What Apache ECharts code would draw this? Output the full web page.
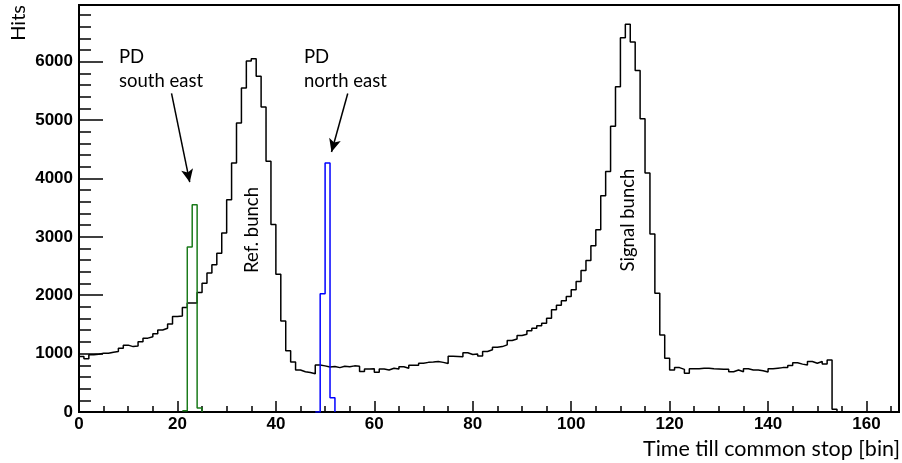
<!DOCTYPE html>
<html><head><meta charset="utf-8">
<script src="https://cdn.jsdelivr.net/npm/echarts@6/dist/echarts.min.js"></script>
<style>html,body{margin:0;padding:0;background:#fff}#c{width:902px;height:463px}</style>
</head><body><div id="c"></div>
<script>
// Black histogram: hits per bin, bins 0..153 (bin width 1)
const mainHits = [
 950, 910, 980, 990,1005,1005,1025,1035,1090,1145,
1120,1130,1205,1265,1290,1340,1405,1435,1505,1635,
1645,1790,1865,1865,2045,2205,2380,2520,2720,3065,
3635,4265,4950,5550,6010,6050,5750,5225,4295,3210,
2360,1560,1050, 855, 720, 690, 675, 655, 805, 790,
 770, 780, 760, 785, 775, 790, 785, 695, 735, 740,
 680, 735, 720, 750, 735, 775, 750, 800, 800, 835,
 850, 855, 865, 850, 830, 955, 950, 945,1015, 985,
 995, 960,1035,1065,1110,1120,1150,1225,1250,1310,
1330,1390,1435,1475,1520,1605,1750,1830,1905,1980,
2095,2235,2425,2595,2845,3120,3705,4120,4895,5570,
6410,6640,6335,5850,5020,4095,3050,2035,1320, 920,
 720, 760, 730, 665, 740, 740, 750, 750, 740, 735,
 730, 730, 690, 720, 690, 740, 720, 720, 705, 685,
 740, 750, 760, 760, 795, 845, 820, 805, 865, 835,
 865, 820, 890,  45
];
// PD south east (green), bins 21..24
const seStart = 21;
const seHits = [20, 2825, 3550, 70];
// PD north east (blue), bins 48..51
const neStart = 48;
const neHits = [0, 2025, 4265, 245];

const xTicks = [0,20,40,60,80,100,120,140,160];
const yTicks = [0,1000,2000,3000,4000,5000,6000];
const xMax = 166.6, yMax = 6970;

function stepData(start, vals){
  const d = [];
  vals.forEach((v,i)=>d.push([start+i, v]));
  d.push([start+vals.length, 0]);
  return d;
}
const font = 'Lato, "Open Sans", sans-serif';
const ann = '18.5px ' + font;
const chart = echarts.init(document.getElementById('c'));
chart.setOption({
  animation:false,
  grid:{left:79,right:3,top:5,bottom:51,show:true,borderColor:'#000',borderWidth:2,backgroundColor:'transparent'},
  xAxis:{type:'value',min:0,max:xMax,interval:20,
    axisLine:{lineStyle:{color:'#000',width:2}},
    axisTick:{inside:true,length:11,lineStyle:{color:'#000',width:1.5}},
    minorTick:{show:true,splitNumber:4,length:6,lineStyle:{color:'#000',width:1.5}},
    splitLine:{show:false},
    axisLabel:{margin:4,fontFamily:'"Liberation Sans", Arial, sans-serif',fontWeight:'bold',fontSize:17,color:'#000',
      formatter:v=>xTicks.includes(v)?String(v):''}
  },
  yAxis:{type:'value',min:0,max:yMax,interval:1000,
    axisLine:{lineStyle:{color:'#000',width:2}},
    axisTick:{inside:true,length:24,lineStyle:{color:'#000',width:1.5}},
    minorTick:{show:true,splitNumber:5,length:12,lineStyle:{color:'#000',width:1.5}},
    splitLine:{show:false},
    axisLabel:{margin:6,fontFamily:'"Liberation Sans", Arial, sans-serif',fontWeight:'bold',fontSize:17,color:'#000',
      formatter:v=>yTicks.includes(v)?String(v):''}
  },
  series:[
    {type:'line',step:'end',data:stepData(0,mainHits),symbol:'none',
     lineStyle:{color:'#000',width:1.5},z:3,
     markLine:{silent:true,symbol:['none','arrow'],symbolSize:[9,13],
       lineStyle:{color:'#000',width:1.5,type:'solid'},label:{show:false},
       data:[
         [{coord:[18.8,5455]},{coord:[22.5,3936]}],
         [{coord:[54.6,5455]},{coord:[51.3,4453]}]
       ]}},
    {type:'line',step:'end',data:stepData(seStart,seHits),symbol:'none',
     lineStyle:{color:'#1a7a1a',width:1.5},z:4},
    {type:'line',step:'end',data:stepData(neStart,neHits),symbol:'none',
     lineStyle:{color:'#0000ff',width:1.5},z:4}
  ],
  graphic:[
    {type:'text',x:119,y:57,style:{text:'PD',font:ann,fill:'#000',verticalAlign:'middle'}},
    {type:'text',x:119,y:81,style:{text:'south east',font:ann,fill:'#000',verticalAlign:'middle'}},
    {type:'text',x:304,y:57,style:{text:'PD',font:ann,fill:'#000',verticalAlign:'middle'}},
    {type:'text',x:304,y:81,style:{text:'north east',font:ann,fill:'#000',verticalAlign:'middle'}},
    {type:'text',x:252,y:230,rotation:Math.PI/2,style:{text:'Ref. bunch',font:ann,fill:'#000',align:'center',verticalAlign:'middle'}},
    {type:'text',x:628,y:220,rotation:Math.PI/2,style:{text:'Signal bunch',font:ann,fill:'#000',align:'center',verticalAlign:'middle'}},
    {type:'text',x:900,y:449,style:{text:'Time till common stop [bin]',font:'21.5px '+font,fill:'#000',align:'right',verticalAlign:'middle'}},
    {type:'text',x:19,y:5,rotation:Math.PI/2,style:{text:'Hits',font:'20px '+font,fill:'#000',align:'right',verticalAlign:'middle'}}
  ]
});
</script></body></html>
